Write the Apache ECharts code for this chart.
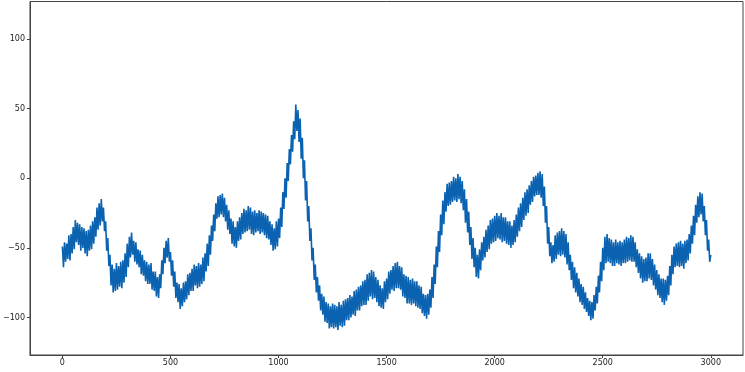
<!DOCTYPE html>
<html>
<head>
<meta charset="utf-8">
<script src="https://cdn.jsdelivr.net/npm/echarts@6/dist/echarts.min.js"></script>
<style>html,body{margin:0;padding:0;background:#fff}#chart{width:745px;height:372px}</style>
</head>
<body>
<div id="chart"></div>
<script>
// Sample spacing along x (values read every 5 steps from the picture)
const X_STEP = 5;
// Series values (alternating upper / lower extent of the noisy trace), 10 per 50 x-units
const seriesValues = [
-49,-64,-46,-60,-47,-58,-41,-59,-40,-54,
-35,-51,-30,-46,-32,-48,-33,-52,-35,-50,
-36,-54,-38,-56,-37,-52,-34,-51,-31,-47,
-28,-42,-21,-37,-18,-34,-15,-31,-21,-38,
-31,-52,-43,-63,-55,-77,-62,-82,-65,-81,
-61,-80,-63,-78,-60,-79,-59,-75,-54,-71,
-47,-64,-42,-57,-39,-55,-45,-60,-46,-62,
-51,-64,-52,-69,-55,-70,-59,-74,-60,-76,
-62,-76,-61,-80,-67,-81,-67,-85,-71,-86,
-69,-79,-59,-69,-50,-61,-45,-57,-43,-60,
-53,-70,-59,-78,-67,-86,-75,-89,-76,-94,
-79,-92,-75,-89,-74,-87,-69,-84,-68,-81,
-65,-81,-62,-77,-63,-79,-61,-78,-62,-76,
-57,-74,-54,-67,-47,-63,-41,-55,-34,-45,
-26,-38,-18,-29,-13,-28,-12,-26,-11,-28,
-14,-31,-19,-37,-23,-40,-29,-47,-31,-49,
-35,-50,-31,-45,-28,-44,-25,-40,-22,-39,
-23,-38,-20,-37,-21,-40,-24,-41,-23,-39,
-25,-38,-23,-40,-24,-39,-25,-41,-26,-43,
-27,-44,-31,-48,-33,-52,-36,-51,-31,-49,
-29,-43,-21,-35,-10,-22,0,-14,11,-2,
21,10,31,19,41,28,53,34,49,26,
43,14,29,0,13,-16,-2,-31,-20,-45,
-36,-59,-50,-73,-62,-82,-71,-88,-77,-95,
-83,-98,-85,-103,-89,-104,-90,-108,-92,-107,
-90,-108,-91,-107,-92,-109,-89,-106,-91,-107,
-88,-106,-87,-102,-86,-102,-84,-100,-85,-98,
-81,-99,-80,-95,-78,-95,-77,-92,-74,-91,
-73,-91,-69,-88,-68,-85,-66,-87,-67,-86,
-71,-89,-73,-92,-77,-93,-79,-94,-74,-89,
-72,-87,-67,-83,-66,-80,-63,-81,-61,-79,
-60,-79,-63,-80,-64,-85,-69,-86,-70,-90,
-71,-90,-73,-91,-72,-90,-74,-92,-74,-93,
-77,-94,-78,-97,-83,-99,-84,-101,-83,-98,
-80,-93,-71,-86,-62,-76,-49,-64,-38,-53,
-26,-41,-16,-33,-10,-24,-4,-20,-3,-19,
-2,-17,1,-16,0,-17,3,-15,1,-18,
-2,-23,-8,-32,-15,-39,-24,-48,-35,-58,
-43,-64,-50,-71,-55,-72,-51,-66,-46,-59,
-42,-57,-37,-53,-34,-51,-30,-47,-29,-46,
-27,-45,-25,-43,-27,-44,-25,-46,-28,-45,
-28,-47,-31,-48,-31,-50,-34,-48,-30,-46,
-26,-42,-21,-38,-18,-35,-14,-30,-10,-27,
-8,-25,-5,-19,-2,-17,1,-13,2,-12,
4,-12,5,-14,3,-20,-6,-32,-20,-47,
-35,-56,-46,-61,-48,-60,-41,-58,-39,-55,
-38,-56,-36,-55,-38,-57,-40,-62,-46,-66,
-55,-73,-60,-79,-64,-82,-68,-85,-72,-89,
-76,-91,-78,-94,-82,-96,-86,-99,-88,-102,
-89,-101,-84,-95,-78,-90,-70,-82,-60,-74,
-50,-66,-42,-61,-40,-60,-43,-61,-44,-63,
-46,-63,-44,-61,-46,-62,-45,-63,-46,-61,
-44,-61,-42,-60,-43,-59,-41,-60,-42,-60,
-46,-64,-51,-68,-54,-72,-56,-75,-58,-74,
-57,-74,-54,-72,-54,-73,-58,-77,-62,-80,
-66,-84,-69,-86,-72,-89,-72,-91,-73,-88,
-70,-84,-63,-77,-55,-69,-49,-64,-47,-63,
-46,-64,-45,-63,-47,-65,-45,-61,-44,-59,
-40,-54,-34,-47,-27,-41,-19,-32,-13,-28,
-10,-26,-11,-31,-20,-41,-30,-52,-44,-60,
-55
];
// Tick labels
const xTicks = [0, 500, 1000, 1500, 2000, 2500, 3000];
const yTicks = [-100, -50, 0, 50, 100];

const points = seriesValues.map((v, i) => [i * X_STEP, v]);
const fmt = v => String(v).replace('-', '\u2212');
const textStyle = { color: '#222', fontSize: 8, fontFamily: 'DejaVu Sans' };

const chart = echarts.init(document.getElementById('chart'), null, { renderer: 'canvas' });
chart.setOption({
  animation: false,
  backgroundColor: '#fff',
  grid: { left: 28.5, right: 2, top: 1.5, bottom: 17, show: true, borderColor: '#444', borderWidth: 1, backgroundColor: 'transparent' },
  xAxis: {
    type: 'value', min: -150, max: 3149,
    splitLine: { show: false },
    axisLine: { show: true, onZero: false, lineStyle: { color: '#444', width: 1 } },
    axisTick: { show: true, length: 3, lineStyle: { color: '#444' }, customValues: xTicks },
    axisLabel: { ...textStyle, margin: 4, customValues: xTicks, formatter: fmt }
  },
  yAxis: {
    type: 'value', min: -127, max: 127,
    splitLine: { show: false },
    axisLine: { show: true, onZero: false, lineStyle: { color: '#444', width: 1 } },
    axisTick: { show: true, length: 3, lineStyle: { color: '#444' }, customValues: yTicks },
    axisLabel: { ...textStyle, margin: 5, customValues: yTicks, formatter: fmt }
  },
  series: [{
    type: 'line', data: points, showSymbol: false, symbol: 'none',
    lineStyle: { color: '#0a62b0', width: 1.6 }, smooth: false
  }]
});
</script>
</body>
</html>
